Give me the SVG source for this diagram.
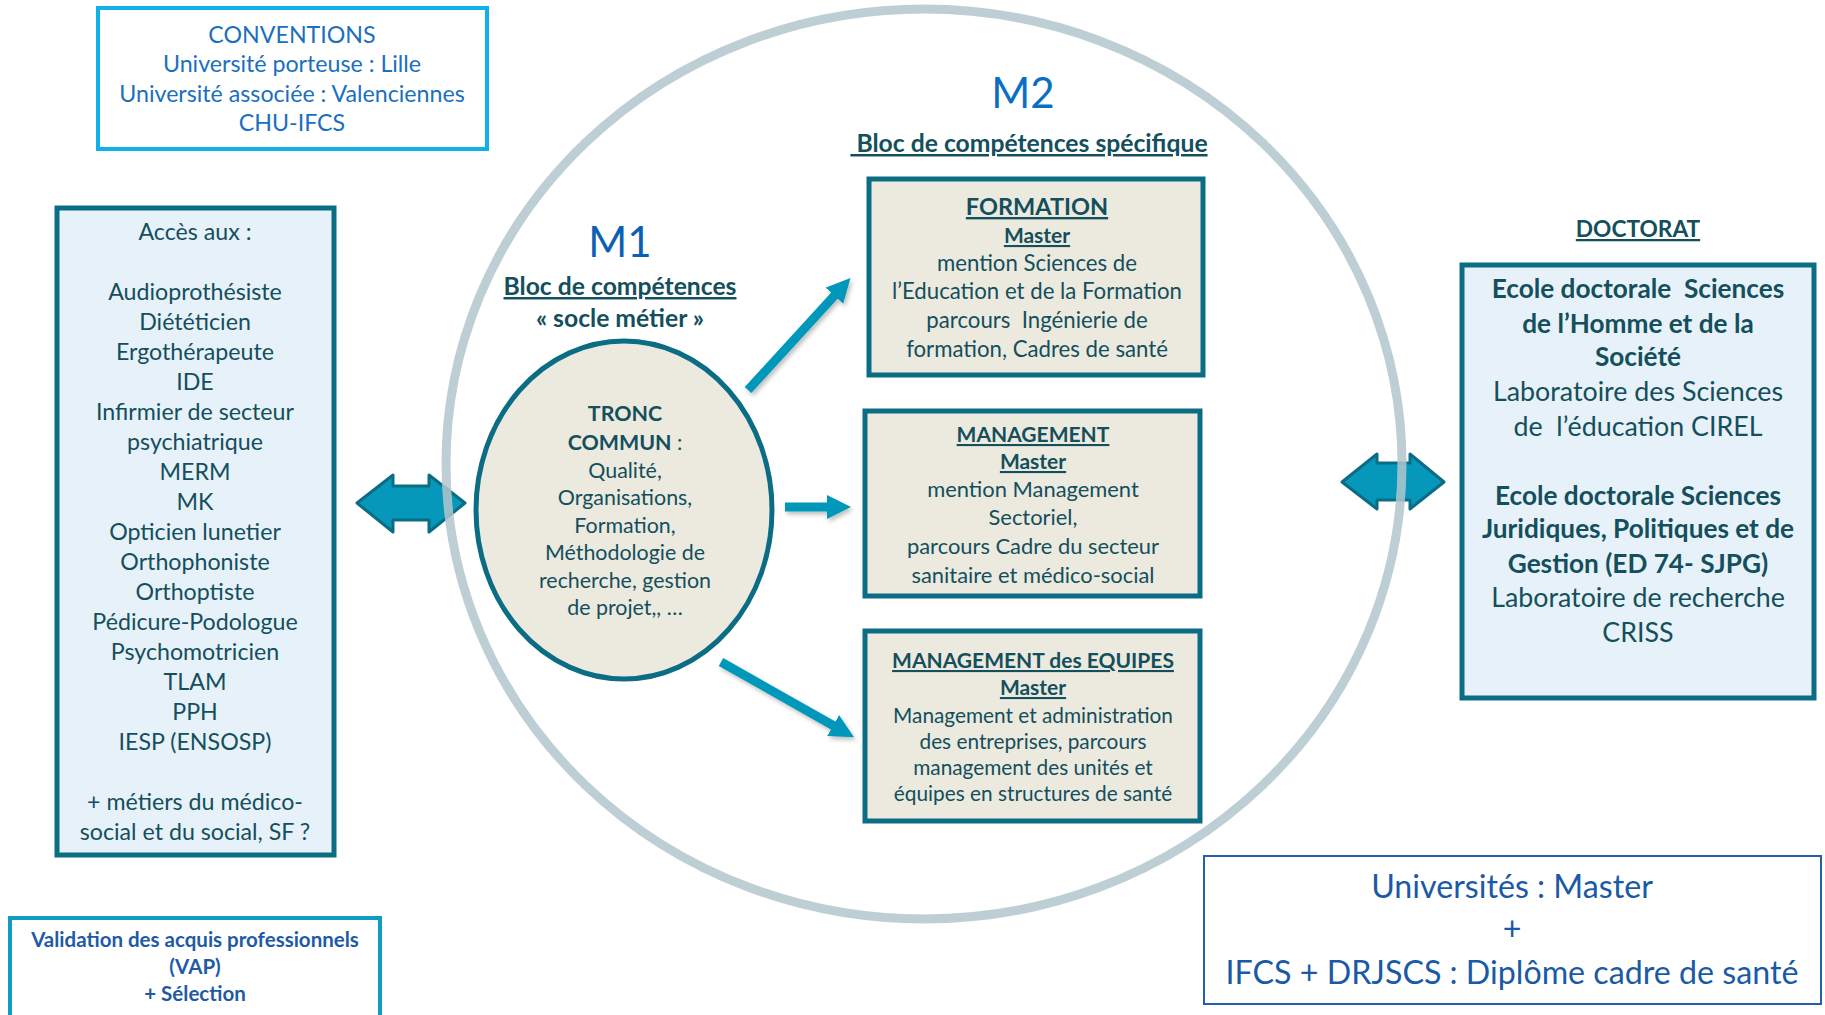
<svg xmlns="http://www.w3.org/2000/svg" width="1825" height="1015" viewBox="0 0 1825 1015">
<style>
text{font-family:Lato,"Open Sans","Liberation Sans",sans-serif;text-anchor:middle}
.dk{fill:#134f5c}
.b{font-weight:bold}
.u{text-decoration:underline}
.box{stroke:#0a6d84;stroke-width:5}
.lb{fill:#e7f1f9}
.be{fill:#ece9df}
.arr{stroke:#0598ba;stroke-width:9;fill:none}
.dbl{fill:#0598ba;stroke:#0a6d84;stroke-width:3;stroke-linejoin:round}
</style>
<defs>
<marker id="ah" markerUnits="userSpaceOnUse" markerWidth="26" markerHeight="26" refX="1" refY="12" orient="auto">
<path d="M0,0 L24,12 L0,24 z" fill="#0598ba"/>
</marker>
<filter id="sh" x="-20%" y="-20%" width="140%" height="140%">
<feDropShadow dx="2" dy="3" stdDeviation="2" flood-color="#000" flood-opacity="0.25"/>
</filter>
</defs>
<rect width="1825" height="1015" fill="#fff"/>

<g id="connectors">
<g filter="url(#sh)">
<line class="arr" x1="748" y1="390" x2="835" y2="295" marker-end="url(#ah)"/>
<line class="arr" x1="785" y1="507" x2="828" y2="507" marker-end="url(#ah)"/>
<line class="arr" x1="721" y1="662" x2="834" y2="726" marker-end="url(#ah)"/>
</g>
<polygon class="dbl" points="357,503 393,475 393,486 429,486 429,475 465,503 429,532 429,520 393,520 393,532"/>
<polygon class="dbl" points="1342,482 1377,454 1377,463 1410,463 1410,454 1444,482 1410,509 1410,500 1377,500 1377,509"/>
</g>

<g id="m-circle">
<ellipse cx="924" cy="464" rx="478" ry="455" fill="none" stroke="#b2c7ce" stroke-width="9" stroke-opacity="0.85"/>
</g>

<g id="conventions">
<rect x="98" y="8" width="389" height="141" fill="#fff" stroke="#10b0ea" stroke-width="4"/>
<g fill="#1a6fbe" font-size="23.2">
<text x="292" y="43">CONVENTIONS</text>
<text x="292" y="72">Université porteuse : Lille</text>
<text x="292" y="102">Université associée : Valenciennes</text>
<text x="292" y="131">CHU-IFCS</text>
</g>
</g>

<g id="acces">
<rect class="box lb" x="57" y="208" width="277" height="647"/>
<g class="dk" font-size="23.2">
<text x="195" y="240">Accès aux :</text>
<text x="195" y="300">Audioprothésiste</text>
<text x="195" y="330">Diététicien</text>
<text x="195" y="360">Ergothérapeute</text>
<text x="195" y="390">IDE</text>
<text x="195" y="420">Infirmier de secteur</text>
<text x="195" y="450">psychiatrique</text>
<text x="195" y="480">MERM</text>
<text x="195" y="510">MK</text>
<text x="195" y="540">Opticien lunetier</text>
<text x="195" y="570">Orthophoniste</text>
<text x="195" y="600">Orthoptiste</text>
<text x="195" y="630">Pédicure-Podologue</text>
<text x="195" y="660">Psychomotricien</text>
<text x="195" y="690">TLAM</text>
<text x="195" y="720">PPH</text>
<text x="195" y="750">IESP (ENSOSP)</text>
<text x="195" y="810">+ métiers du médico-</text>
<text x="195" y="840">social et du social, SF ?</text>
</g>
</g>

<g id="vap">
<rect x="10" y="918" width="370" height="110" fill="#fff" stroke="#0e9cc0" stroke-width="4"/>
<g fill="#1e5aa6" class="b" font-size="20.5">
<text x="195" y="947">Validation des acquis professionnels</text>
<text x="195" y="974">(VAP)</text>
<text x="195" y="1001">+ Sélection</text>
</g>
</g>

<g id="m1">
<text x="620" y="257" font-size="42" fill="#0b5fb5">M1</text>
<text x="620" y="295" font-size="24.7" class="dk b u">Bloc de compétences</text>
<text x="620" y="327" font-size="24.7" class="dk b">« socle métier »</text>
</g>

<g id="tronc">
<ellipse cx="624" cy="510" rx="148" ry="169" fill="#ece9df" stroke="#0a6d84" stroke-width="5"/>
<g class="dk" font-size="21.4">
<text x="625" y="421" class="b">TRONC</text>
<text x="625" y="450"><tspan class="b">COMMUN</tspan> :</text>
<text x="625" y="478">Qualité,</text>
<text x="625" y="505">Organisations,</text>
<text x="625" y="533">Formation,</text>
<text x="625" y="560">Méthodologie de</text>
<text x="625" y="588">recherche, gestion</text>
<text x="625" y="615">de projet,, …</text>
</g>
</g>

<g id="m2">
<text x="1023" y="108" font-size="42" fill="#0a6fc4">M2</text>
<text x="1029" y="152" font-size="24.7" class="dk b u" xml:space="preserve"> Bloc de compétences spécifique</text>
</g>

<g id="formation">
<rect class="box be" x="869" y="179" width="334" height="196"/>
<g class="dk">
<text x="1037" y="215" font-size="23.5" class="b u">FORMATION</text>
<text x="1037" y="243" font-size="21" class="b u">Master</text>
<text x="1037" y="271" font-size="22.2">mention Sciences de</text>
<text x="1037" y="299" font-size="22.2">l’Education et de la Formation</text>
<text x="1037" y="328" font-size="22.2" xml:space="preserve">parcours  Ingénierie de</text>
<text x="1037" y="357" font-size="22.2">formation, Cadres de santé</text>
</g>
</g>

<g id="management">
<rect class="box be" x="865" y="411" width="335" height="185"/>
<g class="dk">
<text x="1033" y="442" font-size="21" class="b u">MANAGEMENT</text>
<text x="1033" y="469" font-size="21" class="b u">Master</text>
<text x="1033" y="497" font-size="21.9">mention Management</text>
<text x="1033" y="525" font-size="21.9">Sectoriel,</text>
<text x="1033" y="554" font-size="21.9">parcours Cadre du secteur</text>
<text x="1033" y="583" font-size="21.9">sanitaire et médico-social</text>
</g>
</g>

<g id="equipes">
<rect class="box be" x="865" y="631" width="335" height="190"/>
<g class="dk">
<text x="1033" y="668" font-size="21" class="b u">MANAGEMENT des EQUIPES</text>
<text x="1033" y="695" font-size="21" class="b u">Master</text>
<text x="1033" y="723" font-size="20.8">Management et administration</text>
<text x="1033" y="749" font-size="20.8">des entreprises, parcours</text>
<text x="1033" y="775" font-size="20.8">management des unités et</text>
<text x="1033" y="801" font-size="20.8">équipes en structures de santé</text>
</g>
</g>

<g id="doctorat">
<text x="1638" y="237" font-size="22.7" class="dk b u">DOCTORAT</text>
<rect class="box lb" x="1462" y="265" width="352" height="433"/>
<g class="dk">
<g font-size="26.2" class="b">
<text x="1638" y="298" xml:space="preserve">Ecole doctorale  Sciences</text>
<text x="1638" y="333">de l’Homme et de la</text>
<text x="1638" y="366">Société</text>
<text x="1638" y="505">Ecole doctorale Sciences</text>
<text x="1638" y="538">Juridiques, Politiques et de</text>
<text x="1638" y="573">Gestion (ED 74- SJPG)</text>
</g>
<g font-size="26.8">
<text x="1638" y="401">Laboratoire des Sciences</text>
<text x="1638" y="436" xml:space="preserve">de  l’éducation CIREL</text>
<text x="1638" y="607">Laboratoire de recherche</text>
<text x="1638" y="642">CRISS</text>
</g>
</g>
</g>

<g id="diplome">
<rect x="1204" y="856" width="617" height="148" fill="#fff" stroke="#2460a8" stroke-width="2"/>
<g fill="#1a5aa5" font-size="32.2">
<text x="1512" y="898">Universités : Master</text>
<text x="1512" y="940">+</text>
<text x="1512" y="984">IFCS + DRJSCS : Diplôme cadre de santé</text>
</g>
</g>
</svg>
